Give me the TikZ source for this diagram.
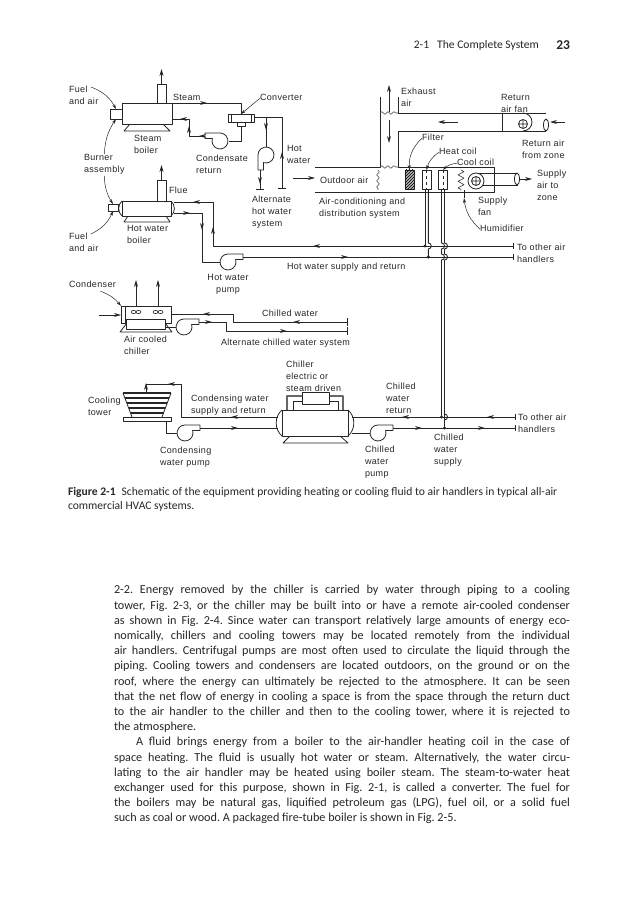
\documentclass[tikz,border=0pt]{standalone}
\usepackage{fontspec}
\usepackage{xcolor}
\usetikzlibrary{arrows.meta,patterns,decorations.markings,decorations.pathmorphing}
\newfontfamily\figfont[LetterSpace=4]{Liberation Sans}
\newfontfamily\pagefont{Carlito}
\tikzset{
    pics/pump/.style={code={
        \draw[equip, fill=white] (7.6,-2.5) arc[start angle=-18, end angle=270, radius=8] -- (15,-8) -- (15,-2.5) -- cycle;
        \coordinate (-in) at (-8,0);
        \coordinate (-out) at (15,-5);
    }},
    pics/fanwheel/.style={code={
        \draw[equip] (0,0) circle[radius=4.5] (-4.5,0) -- (4.5,0) (0,-4.5) -- (0,4.5);
    }}
}
\begin{document}
\begin{tikzpicture}[
        x=1pt, y=-1pt, line join=round,
        equip/.style={draw=black!85, line width=0.8pt},
        unit/.style={equip, rectangle, fill=white, inner sep=0pt, outer sep=0pt},
        pipe/.style={draw=black!85, line width=0.9pt},
        arr/.style={-{Stealth[length=7pt,width=4pt]}, draw=black!85, line width=0.8pt},
        lead/.style={-{Stealth[length=5pt,width=3pt]}, draw=black!85, line width=0.5pt},
        fl/.style={postaction={decorate, decoration={markings, mark=at position #1 with {\arrow{Stealth[length=7pt,width=4pt]}}}}},
        damper/.style={draw=black!70, line width=0.6pt, decorate, decoration={snake, amplitude=1.3pt, segment length=6pt}},
        lbl/.style={inner sep=0pt, outer sep=0pt, anchor=north west, align=left, yshift=4.8pt, text=black!85,
            font=\figfont\fontsize{9}{12}\selectfont, execute at begin node={\strut}},
        mlbl/.style={lbl, yshift=-3pt},
        lblc/.style={mlbl, anchor=north, align=center},
        page/.style={inner sep=0pt, outer sep=0pt, text=black!85}
    ]
    \useasboundingbox (0,0) rectangle (638,912);

    % running head
    \node[page, anchor=east, font=\pagefont\fontsize{11.6}{12}\selectfont] (head) at (539,45) {2-1\hspace{8pt}The Complete System};
    \node[page, anchor=east, font=\pagefont\bfseries\fontsize{13.5}{14}\selectfont] (folio) at (570,45) {23};

    % junctions
    \coordinate (stmTop) at (241,103);
    \coordinate (hwOut) at (282,117);
    \coordinate (hwEnd) at (282,188);
    \coordinate (altTop) at (266,117);
    \coordinate (altEnd) at (260,189);
    \coordinate (hrIn) at (174,202);
    \coordinate (hsOut) at (174,213);
    \coordinate (hrEnd) at (513,246);
    \coordinate (hsEnd) at (513,257);
    \coordinate (cwEnd) at (347,322);
    \coordinate (awEnd) at (347,331);
    \coordinate (chRet) at (352,417);
    \coordinate (chSup) at (352,433);
    \coordinate (chCondA) at (278,417);
    \coordinate (chCondB) at (278,428);
    \coordinate (crEnd) at (515,417);
    \coordinate (csEnd) at (515,428);
    \coordinate (humTip) at (464,198);
    \coordinate (fuelAend) at (91,87);
    \coordinate (fuelBend) at (91,234);

    % boilers
    \draw[equip] (130,124) -- (124,131) -- (170,131) -- (163,124);
    \node[unit, minimum width=50pt, minimum height=21pt] (sboiler) at (147,113.5) {};
    \node[unit, minimum width=12pt, minimum height=10pt] (sburner) at (116,114) {};
    \node[unit, minimum width=9pt, minimum height=19pt] (sstack) at (161.5,93.5) {};
    \draw[arr] (sstack.north) -- ++(0,-15);
    \draw[equip] (128,216) -- (124,222) -- (170,222) -- (166,216);
    \node[unit, minimum width=49pt, minimum height=15pt] (hboiler) at (146.5,208.5) {};
    \node[unit, minimum width=10pt, minimum height=7pt] (hburner) at (113,207.5) {};
    \node[unit, minimum width=9pt, minimum height=21pt] (hstack) at (161.5,190.5) {};
    \draw[arr] (hstack.north) -- ++(0,-15);
    \draw[equip] (hboiler.north west) to[bend right=50] (hboiler.south west);
    \draw[equip] (hboiler.north east) to[bend left=50] (hboiler.south east);

    % converter
    \node[unit, minimum width=26pt, minimum height=8pt] (conv) at (241,118) {};
    \node[unit, minimum width=8pt, minimum height=4pt] (convbase) at (241,124) {};
    \draw[equip] (conv.north west) ++(3,0) -- ++(0,8) (conv.north east) ++(-3,0) -- ++(0,8);

    % steam and hot water pipes
    \draw[pipe, fl=35pt] (sboiler.north east) -- (stmTop) -- (conv.north);
    \draw[pipe] (convbase.south) |- (229,141);
    \pic[xscale=-1] (cndpump) at (220,141) {pump};
    \draw[pipe, fl=6pt, fl=26pt, fl=42pt] (cndpump-out) -- (189,136) -- (189,119) -- (sboiler.east |- 0,119);
    \draw[pipe, fl=36pt] (hwEnd) -- (hwOut) -- (conv.east |- hwOut);
    \draw[pipe, fl=13pt] (altTop) -- (266,147);
    \draw[equip, fill=white] (258,155) -- (258,170) -- (263.5,170) -- (263.5,162.6) arc[start angle=108, end angle=-180, radius=8];
    \draw[pipe, fl=14pt] (260,170) -- (altEnd);
    \draw[equip] (278,188) -- (286,188) (256,189) -- (264,189);
    \draw[pipe, fl=200pt, fl=319pt, fl=364pt] (hrEnd) -- (213,246) -- (213,202) -- (hrIn);
    \draw[pipe, fl=16pt, fl=45pt] (hsOut) -- (202,213) -- (202,262) -- (220,262);
    \pic (hwpump) at (228,262) {pump};
    \draw[pipe, fl=105pt] (hwpump-out) -- (hsEnd);
    \draw[equip] (513,243) -- (513,249) (513,254) -- (513,260);

    % air handler ducts
    \draw[equip] (315,167) -- (380,167) -- (380,97);
    \draw[equip] (398,97) -- (398,113) -- (546,113);
    \draw[equip] (546,131) -- (398,131) -- (398,167) -- (494,167) -- (494,192) -- (315,192);
    \draw[equip] (502,113) -- (502,131);
    \draw[damper] (380,113) -- (398,113);
    \draw[damper] (380,167) -- (398,167);
    \draw[damper] (378,170) -- (378,190);
    \draw[arr] (389,112) -- (389,85);
    \draw[arr] (389,120) -- (389,143);
    \draw[arr] (458,122) -- (438,122);
    \draw[arr] (565,122) -- (550,122);
    \draw[arr] (293,178) -- (315,178);
    \draw[arr] (520,179) -- (532,179);
    \draw[equip] (523,113) arc[start angle=-90, end angle=90, radius=9];
    \pic (retfan) at (523,124) {fanwheel};
    \draw[equip] (546,125) ellipse[x radius=2.5, y radius=6];
    \draw[equip] (476,173) -- (518,173) (482,185) -- (518,185);
    \draw[equip] (517,179) ellipse[x radius=2.5, y radius=6];
    \draw[equip, fill=white] (476,181) circle[radius=8];
    \pic (supfan) at (476,181) {fanwheel};
    \node[unit, minimum width=9pt, minimum height=19pt, fill=gray!60, postaction={pattern=north east lines}] (filter) at (409.5,179.5) {};
    \node[unit, minimum width=9pt, minimum height=19pt] (hcoil) at (426.5,179.5) {};
    \node[unit, minimum width=9pt, minimum height=19pt] (ccoil) at (443,179.5) {};
    \draw[equip, dashed, line width=0.5pt] (hcoil.north) -- (hcoil.south);
    \draw[equip, dashed, line width=0.5pt] (ccoil.north) -- (ccoil.south);
    \draw[draw=black!80, line width=0.6pt, decorate, decoration={zigzag, amplitude=3pt, segment length=6.5pt}] (461,170) -- (461,190);
    \draw[equip] (464,190) -- (humTip);

    % coil pipes
    \draw[pipe] (425,189) -- (425,246);
    \draw[pipe] (428.3,189) -- (428.3,243) arc[start angle=-90, end angle=90, radius=3] -- (428.3,257);
    \foreach \cx/\cy in {441.5/417, 444.5/428} {
        \draw[pipe] (\cx,189) -- (\cx,243) arc[start angle=-90, end angle=90, radius=3] -- (\cx,254) arc[start angle=-90, end angle=90, radius=3] -- (\cx,\cy);
    }
    \draw[pipe] (444.5,414) arc[start angle=-90, end angle=90, radius=3];
    \foreach \dx/\dy in {425/246, 428.3/257, 441.5/417, 444.5/428} {
        \fill[black!85] (\dx,\dy) circle[radius=1.7];
    }

    % air cooled chiller
    \draw[equip] (127,323) -- (120,332) -- (172,332) -- (165,323);
    \node[unit, minimum width=50pt, minimum height=17pt] (condbox) at (146,314.5) {};
    \draw[equip] (125,306) -- (125,323);
    \node[unit, minimum width=39pt, minimum height=10pt] (accbox) at (145.5,324) {};
    \foreach \fx in {136,158} {
        \draw[equip, line width=0.6pt] (\fx-2.5,312) ellipse[x radius=2.5, y radius=1.6] (\fx+2.5,312) ellipse[x radius=2.5, y radius=1.6];
        \draw[arr] (\fx,306) -- (\fx,280);
    }
    \draw[arr] (99,315) -- (condbox.west |- 0,315);
    \draw[pipe, fl=54pt, fl=152pt] (cwEnd) -- (233,322) -- (233,314) -- (condbox.east |- 0,314);
    \draw[pipe] (accbox.east |- 0,327) -- (176,327);
    \pic (cwpump) at (184,327) {pump};
    \draw[pipe, fl=13pt, fl=97pt] (cwpump-out) -- (226,322) -- (226,331) -- (awEnd);
    \draw[equip] (347,318) -- (347,326) (347,327) -- (347,335);

    % cooling tower
    \foreach \ty in {393,398,...,413} {
        \pgfmathsetmacro{\tl}{123+(\ty-393)*0.375}
        \pgfmathsetmacro{\tr}{171-(\ty-393)*0.375}
        \draw[equip, line width=1.1pt] (\tl,\ty) -- (\tr,\ty);
    }
    \draw[equip] (123,393) -- (132,417) (171,393) -- (162,417);
    \node[unit, minimum width=48pt, minimum height=4pt] (towerbase) at (147,419) {};
    \draw[pipe, fl=47pt, fl=143pt] (chCondA) -- (181,417) -- (181,384) -- (146,384);
    \draw[arr] (146,392) -- (146,383);
    \draw[pipe] (166,421) |- (177,433);
    \pic (cndwpump) at (185,433) {pump};
    \draw[pipe, fl=38pt] (cndwpump-out) -- (chCondB);

    % chiller
    \draw[equip] (290,436) -- (283,443) -- (348,443) -- (340,436);
    \draw[equip, draw=black!60, line width=1.1pt] (287,410) -- (287,396) -- (343,396) -- (343,410);
    \draw[equip] (293,410) -- (293,401) -- (338,401) -- (338,410);
    \node[unit, minimum width=66pt, minimum height=26pt] (chiller) at (315,423) {};
    \node[unit, minimum width=27pt, minimum height=12pt] (chdrive) at (315.5,398) {};
    \draw[equip] (chiller.north west) to[bend right=50] (chiller.south west);
    \draw[equip] (chiller.north east) to[bend left=50] (chiller.south east);
    \draw[pipe, fl=28pt, fl=113pt] (crEnd) -- (chRet);
    \draw[pipe] (chSup) -- (370,433);
    \pic (chwpump) at (378,433) {pump};
    \draw[pipe, fl=29pt, fl=92pt] (chwpump-out) -- (csEnd);
    \draw[equip] (515,414) -- (515,420) (515,425) -- (515,431);

    % labels
    \node[mlbl] (fuelA) at (69,88) {Fuel\\and air};
    \node[lbl] (steam) at (173,97) {Steam};
    \node[lbl] (convlbl) at (260,97) {Converter};
    \node[mlbl] (sboilerlbl) at (134,137) {Steam\\boiler};
    \node[mlbl] (burnerlbl) at (84,156) {Burner\\assembly};
    \node[mlbl] (cndlbl) at (196,157) {Condensate\\return};
    \node[mlbl] (hotlbl) at (287,147) {Hot\\water};
    \node[mlbl] (altlbl) at (252,198) {Alternate\\hot water\\system};
    \node[lbl] (flue) at (169,190) {Flue};
    \node[mlbl] (hboilerlbl) at (127,227) {Hot water\\boiler};
    \node[mlbl] (fuelB) at (69,235) {Fuel\\and air};
    \node[lblc] (hwpumplbl) at (228,276) {Hot water\\pump};
    \node[lbl] (hwsr) at (287,266) {Hot water supply and return};
    \node[mlbl] (exhaust) at (401,90) {Exhaust\\air};
    \node[mlbl] (retfanlbl) at (501,96) {Return\\air fan};
    \node[mlbl] (retzone) at (522,142) {Return air\\from zone};
    \node[lbl] (filterlbl) at (422,137) {Filter};
    \node[lbl] (heatlbl) at (439,151) {Heat coil};
    \node[lbl] (coollbl) at (457,162) {Cool coil};
    \node[lbl] (outdoor) at (320,180) {Outdoor air};
    \node[mlbl] (acsys) at (319,200) {Air-conditioning and\\distribution system};
    \node[mlbl] (supzone) at (537,172) {Supply\\air to\\zone};
    \node[mlbl] (supfanlbl) at (478,199) {Supply\\fan};
    \node[lbl] (humlbl) at (480,228) {Humidifier};
    \node[mlbl] (otherA) at (517,246) {To other air\\handlers};
    \node[lbl] (condlbl) at (69,284) {Condenser};
    \node[mlbl] (acclbl) at (124,338) {Air cooled\\chiller};
    \node[lbl] (chwlbl) at (262,313) {Chilled water};
    \node[lbl] (altcw) at (221,342) {Alternate chilled water system};
    \node[mlbl] (chlbl) at (286,363) {Chiller\\electric or\\steam driven};
    \node[mlbl] (towerlbl) at (88,399) {Cooling\\tower};
    \node[mlbl] (cndsr) at (191,397) {Condensing water\\supply and return};
    \node[mlbl] (cndwlbl) at (160,449) {Condensing\\water pump};
    \node[mlbl] (crlbl) at (386,385) {Chilled\\water\\return};
    \node[mlbl] (cplbl) at (365,448) {Chilled\\water\\pump};
    \node[mlbl] (cslbl) at (434,436) {Chilled\\water\\supply};
    \node[mlbl] (otherB) at (518,416) {To other air\\handlers};

    % leaders
    \draw[lead] (fuelAend) to[bend left=20] (sburner.north);
    \draw[lead] (burnerlbl.north) to[bend left=15] (sburner.south);
    \draw[lead] (burnerlbl.south) to[bend right=15] (hburner.north);
    \draw[lead] (fuelBend) to[bend right=20] (hburner.south);
    \draw[lead] (convlbl.west) -- (conv.north);
    \draw[lead] (filterlbl.west) to[bend right=25] (filter.north);
    \draw[lead] (heatlbl.west) to[bend right=20] (hcoil.north);
    \draw[lead] (coollbl.west) to[bend right=20] (ccoil.north);
    \draw[lead] (humlbl.west) to[bend left=20] (humTip);
    \draw[lead] (condlbl.south) ++(8,0) to[bend left=15] (condbox.north west);

    % caption and text
    \node[page, anchor=north west, align=left, font=\pagefont\fontsize{11.6}{14.2}\selectfont] (caption) at (68,487)
        {\textbf{Figure 2-1}\hspace{6pt}Schematic of the equipment providing heating or cooling fluid to air handlers in typical all-air\\
        commercial HVAC systems.};
    \node[page, anchor=north west, text width=456pt, align=justify, font=\pagefont\fontsize{12.2}{15.2}\selectfont] (bodytext) at (114,585.5)
        {\frenchspacing\setlength{\parindent}{22pt}\noindent
        2-2. Energy removed by the chiller is carried by water through piping to a cooling\linebreak
        tower, Fig. 2-3, or the chiller may be built into or have a remote air-cooled condenser\linebreak
        as shown in Fig. 2-4. Since water can transport relatively large amounts of energy eco-\linebreak
        nomically, chillers and cooling towers may be located remotely from the individual\linebreak
        air handlers. Centrifugal pumps are most often used to circulate the liquid through the\linebreak
        piping. Cooling towers and condensers are located outdoors, on the ground or on the\linebreak
        roof, where the energy can ultimately be rejected to the atmosphere. It can be seen\linebreak
        that the net flow of energy in cooling a space is from the space through the return duct\linebreak
        to the air handler to the chiller and then to the cooling tower, where it is rejected to\linebreak
        the atmosphere.\par
        A fluid brings energy from a boiler to the air-handler heating coil in the case of\linebreak
        space heating. The fluid is usually hot water or steam. Alternatively, the water circu-\linebreak
        lating to the air handler may be heated using boiler steam. The steam-to-water heat\linebreak
        exchanger used for this purpose, shown in Fig. 2-1, is called a converter. The fuel for\linebreak
        the boilers may be natural gas, liquified petroleum gas (LPG), fuel oil, or a solid fuel\linebreak
        such as coal or wood. A packaged fire-tube boiler is shown in Fig. 2-5.\par};
\end{tikzpicture}
\end{document}
